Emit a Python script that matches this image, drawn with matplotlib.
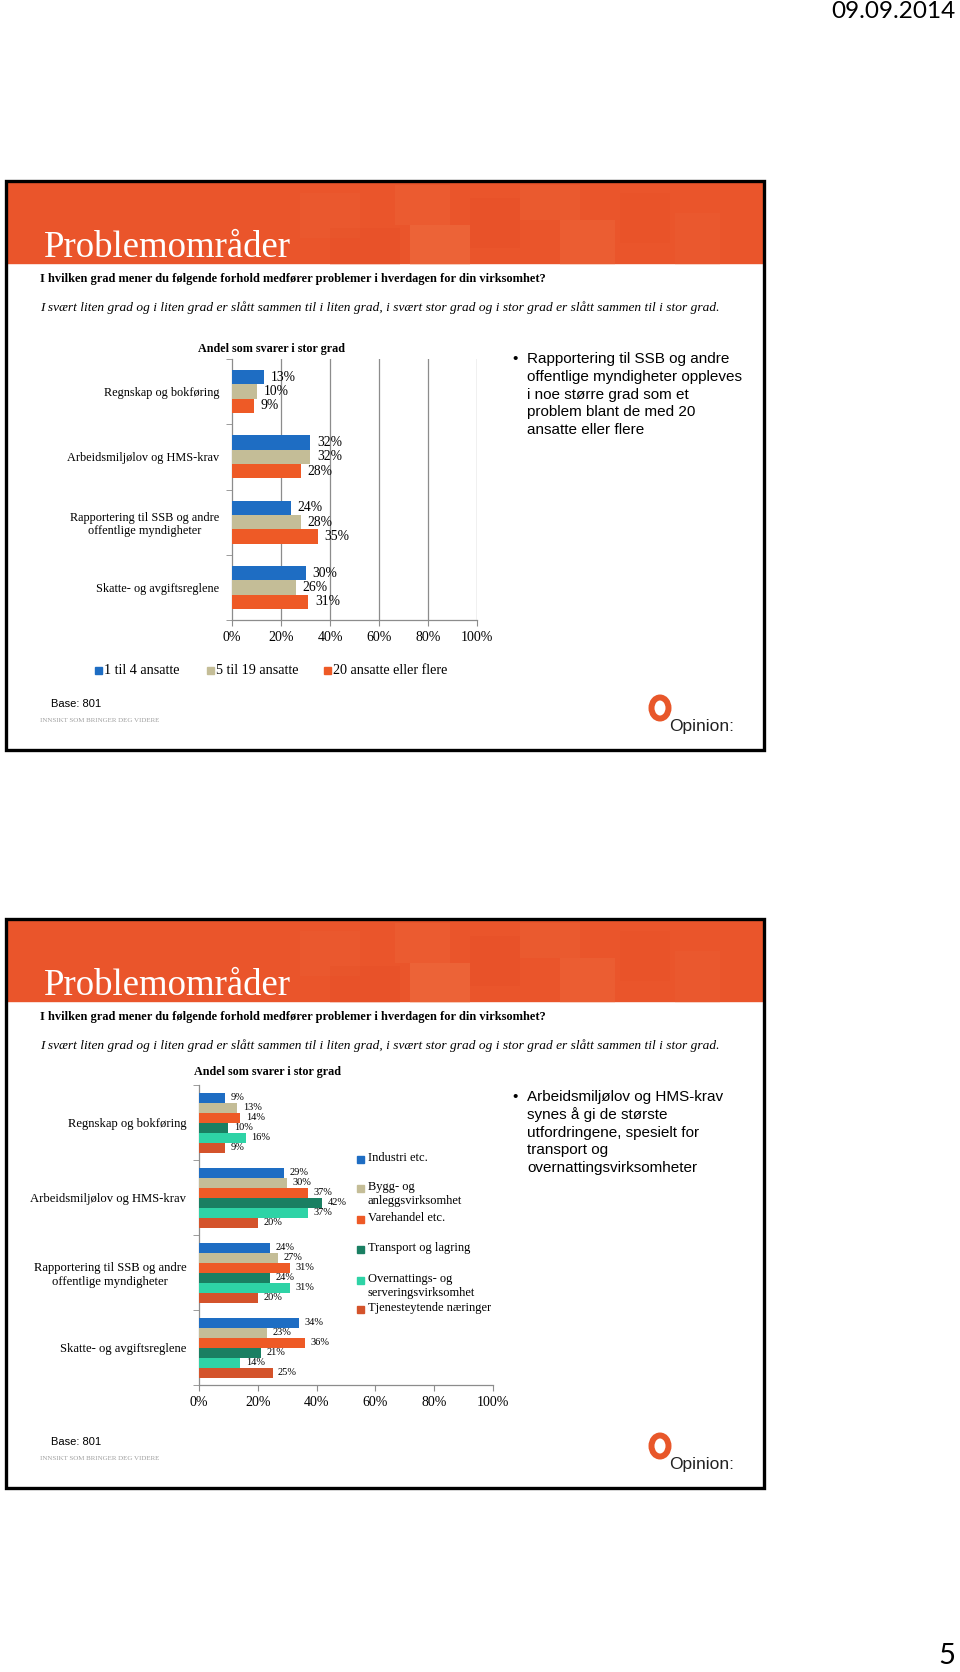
import numpy as np
import matplotlib.pyplot as plt
from matplotlib.patches import Rectangle, Ellipse

W, H = 960, 1672

CATEGORIES = [
    "Regnskap og bokføring",
    "Arbeidsmiljølov og HMS-krav",
    "Rapportering til SSB og andre\noffentlige myndigheter",
    "Skatte- og avgiftsreglene",
]
X_TICKS = [0, 20, 40, 60, 80, 100]

# slide 1: by company size
SIZE_GROUPS = ["1 til 4 ansatte", "5 til 19 ansatte", "20 ansatte eller flere"]
SIZE_COLORS = ["#1E6DC3", "#C4BD97", "#EE5A26"]
SIZE_VALUES = [
    [13, 32, 24, 30],
    [10, 32, 28, 26],
    [9, 28, 35, 31],
]

# slide 2: by industry
INDUSTRIES = [
    "Industri etc.",
    "Bygg- og\nanleggsvirksomhet",
    "Varehandel etc.",
    "Transport og lagring",
    "Overnattings- og\nserveringsvirksomhet",
    "Tjenesteytende næringer",
]
INDUSTRY_COLORS = ["#1E6DC3", "#C4BD97", "#EE5A26", "#1A7F62", "#2ED3A6", "#D4532B"]
INDUSTRY_VALUES = [
    [9, 29, 24, 34],
    [13, 30, 27, 23],
    [14, 37, 31, 36],
    [10, 42, 24, 21],
    [16, 37, 31, 14],
    [9, 20, 20, 25],
]

QUESTION = "I hvilken grad mener du følgende forhold medfører problemer i hverdagen for din virksomhet?"
NOTE = ("I svært liten grad og i liten grad er slått sammen til i liten grad, "
        "i svært stor grad og i stor grad er slått sammen til i stor grad.")
CHART_TITLE = "Andel som svarer i stor grad"
BULLET_1 = ["Rapportering til SSB og andre", "offentlige myndigheter oppleves",
            "i noe større grad som et", "problem blant de med 20", "ansatte eller flere"]
BULLET_2 = ["Arbeidsmiljølov og HMS-krav", "synes å gi de største",
            "utfordringene, spesielt for", "transport og", "overnattingsvirksomheter"]

SERIF = ["Liberation Serif", "DejaVu Serif"]
SANS = ["Liberation Sans", "DejaVu Sans"]
AXIS_GRAY = "#8C8C8C"

plt.rcParams["font.family"] = SERIF


def px_axes(fig, left, top, right, bottom):
    return fig.add_axes([left / W, 1 - bottom / H, (right - left) / W, (bottom - top) / H])


def draw_slide(bg, top, bullet_lines):
    bottom = top + 569
    # header band with faint square pattern
    bg.add_patch(Rectangle((7, top + 2), 756, 80, color="#EA552B", zorder=1))
    pattern = [
        (300, 10, 60, 45, "#F07446", 0.12), (330, 45, 70, 37, "#E0441E", 0.15),
        (395, 2, 55, 40, "#F28050", 0.15), (410, 42, 60, 40, "#F5905E", 0.25),
        (470, 15, 50, 50, "#E34A22", 0.2), (520, 2, 60, 35, "#F07A4C", 0.14),
        (560, 37, 55, 45, "#F48A5A", 0.16), (620, 10, 50, 50, "#E4491F", 0.16),
        (675, 30, 45, 52, "#F07446", 0.12),
    ]
    for x, dy, w, h, c, a in pattern:
        bg.add_patch(Rectangle((x, top + 2 + dy), w, h, color=c, alpha=a, lw=0, zorder=2))
    # frame
    bg.add_patch(Rectangle((6, top), 758, bottom - top, fill=False, ec="black", lw=2.4, zorder=5))

    bg.text(44, top + 67, "Problemområder", color="white", fontsize=26.5,
            va="center", ha="left", zorder=6)
    bg.text(40, top + 98, QUESTION, fontsize=8.9, fontweight="bold", va="center")
    bg.text(40, top + 127, NOTE, fontsize=9.6, style="italic", va="center")

    bg.text(512, top + 178, "•", family=SANS, fontsize=11, va="center")
    for i, line in enumerate(bullet_lines):
        bg.text(527, top + 178 + i * 17.8, line, family=SANS, fontsize=11, va="center")

    # footer
    bg.text(51, top + 523, "Base: 801", family=SANS, fontsize=8, va="center")
    bg.text(40, top + 539, "INNSIKT SOM BRINGER DEG VIDERE", fontsize=5,
            color="#A0A0A0", va="center")
    bg.add_patch(Ellipse((660, top + 527), 17, 21, fill=False, ec="#E8572A", lw=4.3, zorder=6))
    bg.text(669, top + 545, "Opinion:", family=SANS, fontsize=12.5, va="center",
            color="#222222")


def bar_chart(ax, values, colors, bar_h, label_size, label_pad, grid, cat_size, tick_pad):
    n = len(values)
    y = np.arange(len(CATEGORIES))
    for j, (vals, c) in enumerate(zip(values, colors)):
        pos = y + (j - (n - 1) / 2) * bar_h
        bars = ax.barh(pos, vals, height=bar_h, color=c, zorder=3)
        ax.bar_label(bars, labels=[f"{v}%" for v in vals], padding=label_pad,
                     fontsize=label_size)
    ax.set_xlim(0, 100)
    ax.set_ylim(len(CATEGORIES) - 0.5, -0.5)
    ax.set_xticks(X_TICKS)
    ax.set_xticklabels([f"{t}%" for t in X_TICKS], fontsize=10)
    ax.set_yticks(y)
    ax.set_yticklabels(CATEGORIES, fontsize=cat_size)
    for t in ax.get_yticklabels():
        t.set_multialignment("center")
    ax.set_yticks(np.arange(-0.5, len(CATEGORIES), 1), minor=True)
    ax.tick_params(axis="y", which="major", length=0, pad=tick_pad)
    ax.tick_params(axis="y", which="minor", length=4, color=AXIS_GRAY)
    ax.tick_params(axis="x", length=4, color=AXIS_GRAY, pad=4)
    for s in ["top", "right"]:
        ax.spines[s].set_visible(False)
    for s in ["left", "bottom"]:
        ax.spines[s].set_color(AXIS_GRAY)
        ax.spines[s].set_linewidth(0.9)
    if grid:
        for t in X_TICKS[1:]:
            ax.axvline(t, color=AXIS_GRAY, lw=0.9, zorder=1)
    ax.set_facecolor("none")


def main():
    fig = plt.figure(figsize=(W / 100, H / 100), dpi=100)
    bg = fig.add_axes([0, 0, 1, 1])
    bg.set_xlim(0, W)
    bg.set_ylim(H, 0)
    bg.axis("off")

    bg.text(955, 12, "09.09.2014", family=["Lato", "DejaVu Sans"], fontsize=17.5,
            ha="right", va="center")
    bg.text(955, 1656, "5", family=["Lato", "DejaVu Sans"], fontsize=21,
            ha="right", va="center")

    draw_slide(bg, 181, BULLET_1)
    draw_slide(bg, 919, BULLET_2)

    # slide 1 chart
    bg.text(272, 349, CHART_TITLE, fontsize=8.7, fontweight="bold", ha="center", va="center")
    ax1 = px_axes(fig, 232, 359, 477, 620)
    bar_chart(ax1, SIZE_VALUES, SIZE_COLORS, 0.22, 9.8, 5, True, 8.8, 9)
    legend_x = [98, 210, 327]
    for x, name, c in zip(legend_x, SIZE_GROUPS, SIZE_COLORS):
        bg.add_patch(Rectangle((x - 3.5, 666.5), 7, 7, color=c))
        bg.text(x + 6, 670, name, fontsize=10.2, va="center")

    # slide 2 chart
    bg.text(268, 1072, CHART_TITLE, fontsize=8.7, fontweight="bold", ha="center", va="center")
    ax2 = px_axes(fig, 199, 1085, 493, 1385)
    bar_chart(ax2, INDUSTRY_VALUES, INDUSTRY_COLORS, 0.8 / 6, 7.5, 4, False, 9.1, 9)
    legend_y = [1159, 1188, 1219, 1249, 1280, 1309]
    for yy, name, c in zip(legend_y, INDUSTRIES, INDUSTRY_COLORS):
        bg.add_patch(Rectangle((357, yy - 3.5), 7, 7, color=c))
        bg.text(368, yy - 7, name, fontsize=9, va="top", linespacing=1.25)

    fig.savefig("out.png", dpi=100)


if __name__ == "__main__":
    main()
